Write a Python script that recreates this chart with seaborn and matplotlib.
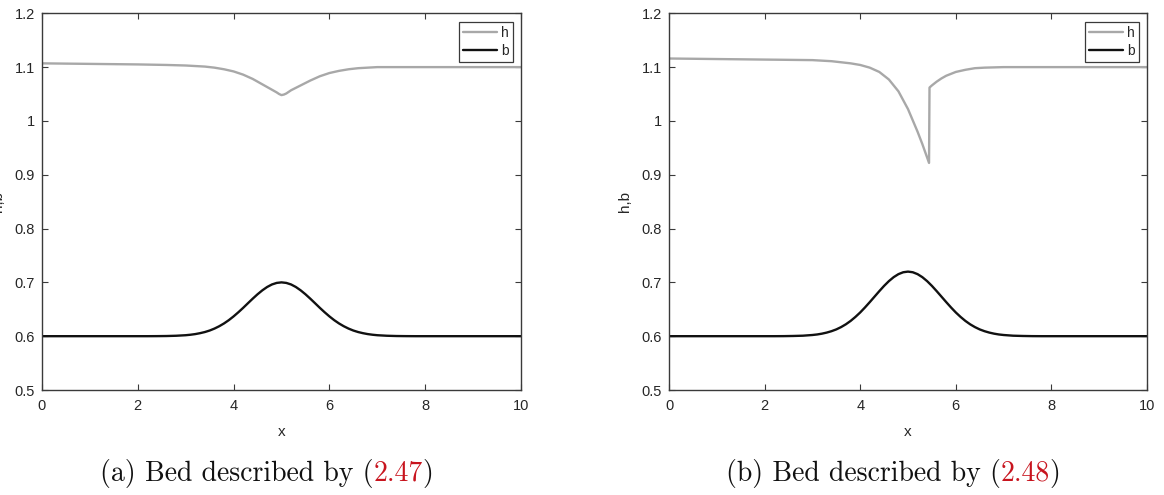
import numpy as np
import pandas as pd
import matplotlib
matplotlib.use("Agg")
import matplotlib.pyplot as plt
from matplotlib.ticker import FuncFormatter, FixedLocator
import seaborn as sns

# ---------------- data ----------------
bed_x = [0.0, 2.0, 2.2, 2.4, 2.6, 2.8,
         3.0, 3.1, 3.2, 3.3, 3.4, 3.5, 3.6, 3.7, 3.8, 3.9,
         4.0, 4.1, 4.2, 4.3, 4.4, 4.5, 4.6, 4.7, 4.8, 4.9,
         5.0, 5.1, 5.2, 5.3, 5.4, 5.5, 5.6, 5.7, 5.8, 5.9,
         6.0, 6.1, 6.2, 6.3, 6.4, 6.5, 6.6, 6.7, 6.8, 6.9,
         7.0, 7.2, 7.4, 7.6, 7.8, 8.0, 10.0]
# bed b, panel (a)
bed_a_y = [0.6000, 0.6000, 0.6000, 0.6001, 0.6003, 0.6008,
           0.6018, 0.6027, 0.6039, 0.6056, 0.6077, 0.6105, 0.6141, 0.6185, 0.6237, 0.6298,
           0.6368, 0.6445, 0.6527, 0.6613, 0.6698, 0.6779, 0.6852, 0.6914, 0.6961, 0.6990,
           0.7000, 0.6990, 0.6961, 0.6914, 0.6852, 0.6779, 0.6698, 0.6613, 0.6527, 0.6445,
           0.6368, 0.6298, 0.6237, 0.6185, 0.6141, 0.6105, 0.6077, 0.6056, 0.6039, 0.6027,
           0.6018, 0.6008, 0.6003, 0.6001, 0.6000, 0.6000, 0.6000]
# bed b, panel (b)
bed_b_y = [0.6000, 0.6000, 0.6000, 0.6001, 0.6004, 0.6009,
           0.6022, 0.6032, 0.6047, 0.6067, 0.6093, 0.6126, 0.6169, 0.6221, 0.6284, 0.6358,
           0.6441, 0.6534, 0.6633, 0.6735, 0.6837, 0.6935, 0.7023, 0.7097, 0.7153, 0.7188,
           0.7200, 0.7188, 0.7153, 0.7097, 0.7023, 0.6935, 0.6837, 0.6735, 0.6633, 0.6534,
           0.6441, 0.6358, 0.6284, 0.6221, 0.6169, 0.6126, 0.6093, 0.6067, 0.6047, 0.6032,
           0.6022, 0.6009, 0.6004, 0.6001, 0.6000, 0.6000, 0.6000]

# free surface h, panel (a)
h_a_x = [0.0, 1.0, 2.0, 2.6, 3.0, 3.4, 3.6, 3.8, 4.0, 4.2, 4.4, 4.6, 4.8, 4.9, 4.95, 5.0,
         5.05, 5.1, 5.2, 5.4, 5.6, 5.8, 6.0, 6.2, 6.4, 6.6, 6.8, 7.0, 8.0, 10.0]
h_a_y = [1.107, 1.106, 1.105, 1.104, 1.103, 1.101, 1.099, 1.096, 1.092, 1.086, 1.078, 1.068,
         1.058, 1.053, 1.050, 1.048, 1.049, 1.051, 1.057, 1.066, 1.075, 1.083, 1.089, 1.093,
         1.096, 1.098, 1.099, 1.100, 1.100, 1.100]

# free surface h, panel (b)
h_b_x = [0.0, 1.0, 2.0, 3.0, 3.4, 3.6, 3.8, 4.0, 4.2, 4.4, 4.6, 4.8, 5.0, 5.2, 5.3, 5.44,
         5.45, 5.5, 5.6, 5.7, 5.8, 6.0, 6.2, 6.4, 6.6, 7.0, 8.0, 10.0]
h_b_y = [1.116, 1.115, 1.114, 1.113, 1.111, 1.109, 1.107, 1.104, 1.099, 1.091, 1.077, 1.055,
         1.022, 0.980, 0.957, 0.922, 1.062, 1.066, 1.073, 1.079, 1.084, 1.091, 1.095, 1.098,
         1.099, 1.100, 1.100, 1.100]

series_names = ["h", "b"]
x_ticks = [0, 2, 4, 6, 8, 10]
y_ticks = [0.5, 0.6, 0.7, 0.8, 0.9, 1.0, 1.1, 1.2]
captions = [("(a) Bed described by (", "2.47", ")"),
            ("(b) Bed described by (", "2.48", ")")]

# ---------------- styling ----------------
sns.set_theme(style="ticks")
plt.rcParams["font.family"] = ["Liberation Sans", "DejaVu Sans"]

H_COLOR = "#a8a8a8"
B_COLOR = "#111111"
AX_COLOR = "#3a3a3a"
TXT_COLOR = "#262626"
RED = "#c8141e"
CAP_FS = 20

fig = plt.figure(figsize=(11.64, 4.95), dpi=100)
W, Hh = 1164.0, 495.0
axes_px = [(42, 521), (669, 1147)]
top_px, bot_px = 13.3, 390.0

panels = [
    (h_a_x, h_a_y, bed_x, bed_a_y),
    (h_b_x, h_b_y, bed_x, bed_b_y),
]

fig.canvas.draw()
for i, ((hx, hy, bx, by), (l, r)) in enumerate(zip(panels, axes_px)):
    axw = r - l
    axh = bot_px - top_px
    ax = fig.add_axes([l / W, (Hh - bot_px) / Hh, axw / W, axh / Hh])
    df_h = pd.DataFrame({"x": hx, "y": hy})
    df_b = pd.DataFrame({"x": bx, "y": by})
    sns.lineplot(data=df_h, x="x", y="y", ax=ax, color=H_COLOR, lw=1.7,
                 label=series_names[0], estimator=None, sort=False)
    sns.lineplot(data=df_b, x="x", y="y", ax=ax, color=B_COLOR, lw=1.7,
                 label=series_names[1], estimator=None, sort=False)
    ax.set_xlim(0, 10)
    ax.set_ylim(0.5, 1.2)
    ax.xaxis.set_major_locator(FixedLocator(x_ticks))
    ax.yaxis.set_major_locator(FixedLocator(y_ticks))
    ax.yaxis.set_major_formatter(FuncFormatter(lambda v, p: "%g" % round(v, 2)))
    ax.xaxis.set_major_formatter(FuncFormatter(lambda v, p: "%g" % v))
    ax.tick_params(direction="in", top=True, right=True, length=4, width=0.8,
                   color=AX_COLOR, labelsize=10.5, labelcolor=TXT_COLOR)
    ax.tick_params(axis="x", pad=6.5)
    ax.tick_params(axis="y", pad=5)
    for s in ax.spines.values():
        s.set_visible(True)
        s.set_color(AX_COLOR)
        s.set_linewidth(1.0)
    ax.set_xlabel("x", fontsize=11, color=TXT_COLOR)
    ax.set_ylabel("h,b", fontsize=11, color=TXT_COLOR)
    ax.xaxis.set_label_coords(0.5, -(425 - bot_px) / axh)
    ax.yaxis.set_label_coords(-(669 - 632) / axw, 0.5)
    leg = ax.legend(loc="upper right", fontsize=10, frameon=True, fancybox=False,
                    framealpha=1, edgecolor=AX_COLOR, handlelength=2.4,
                    handletextpad=0.3, borderpad=0.3, labelspacing=0.3,
                    borderaxespad=0.6)
    leg.get_frame().set_linewidth(0.9)
    for t in leg.get_texts():
        t.set_color(TXT_COLOR)

    # caption, centred about 15 px left of the axes centre
    cx = ((l + r) / 2 - 15) / W
    cy = (Hh - 473) / Hh
    p1, p2, p3 = captions[i]
    t1 = fig.text(cx, cy, p1, fontsize=CAP_FS, family="cmr10", color="#111111",
                  ha="left", va="center")
    t2 = fig.text(0, 0, p2, fontsize=CAP_FS, family="cmr10", color=RED,
                  ha="left", va="center")
    t3 = fig.text(0, 0, p3, fontsize=CAP_FS, family="cmr10", color="#111111",
                  ha="left", va="center")
    fig.canvas.draw()
    ren = fig.canvas.get_renderer()
    e1 = t1.get_window_extent(ren)
    t2.set_position((e1.x1 / W, cy))
    fig.canvas.draw()
    e2 = t2.get_window_extent(ren)
    t3.set_position((e2.x1 / W, cy))
    fig.canvas.draw()
    e3 = t3.get_window_extent(ren)
    total = e3.x1 - e1.x0
    shift = (cx * W - total / 2) - e1.x0
    for t in (t1, t2, t3):
        x0, y0 = t.get_position()
        t.set_position((x0 + shift / W, y0))

fig.savefig("out.png", dpi=100)
